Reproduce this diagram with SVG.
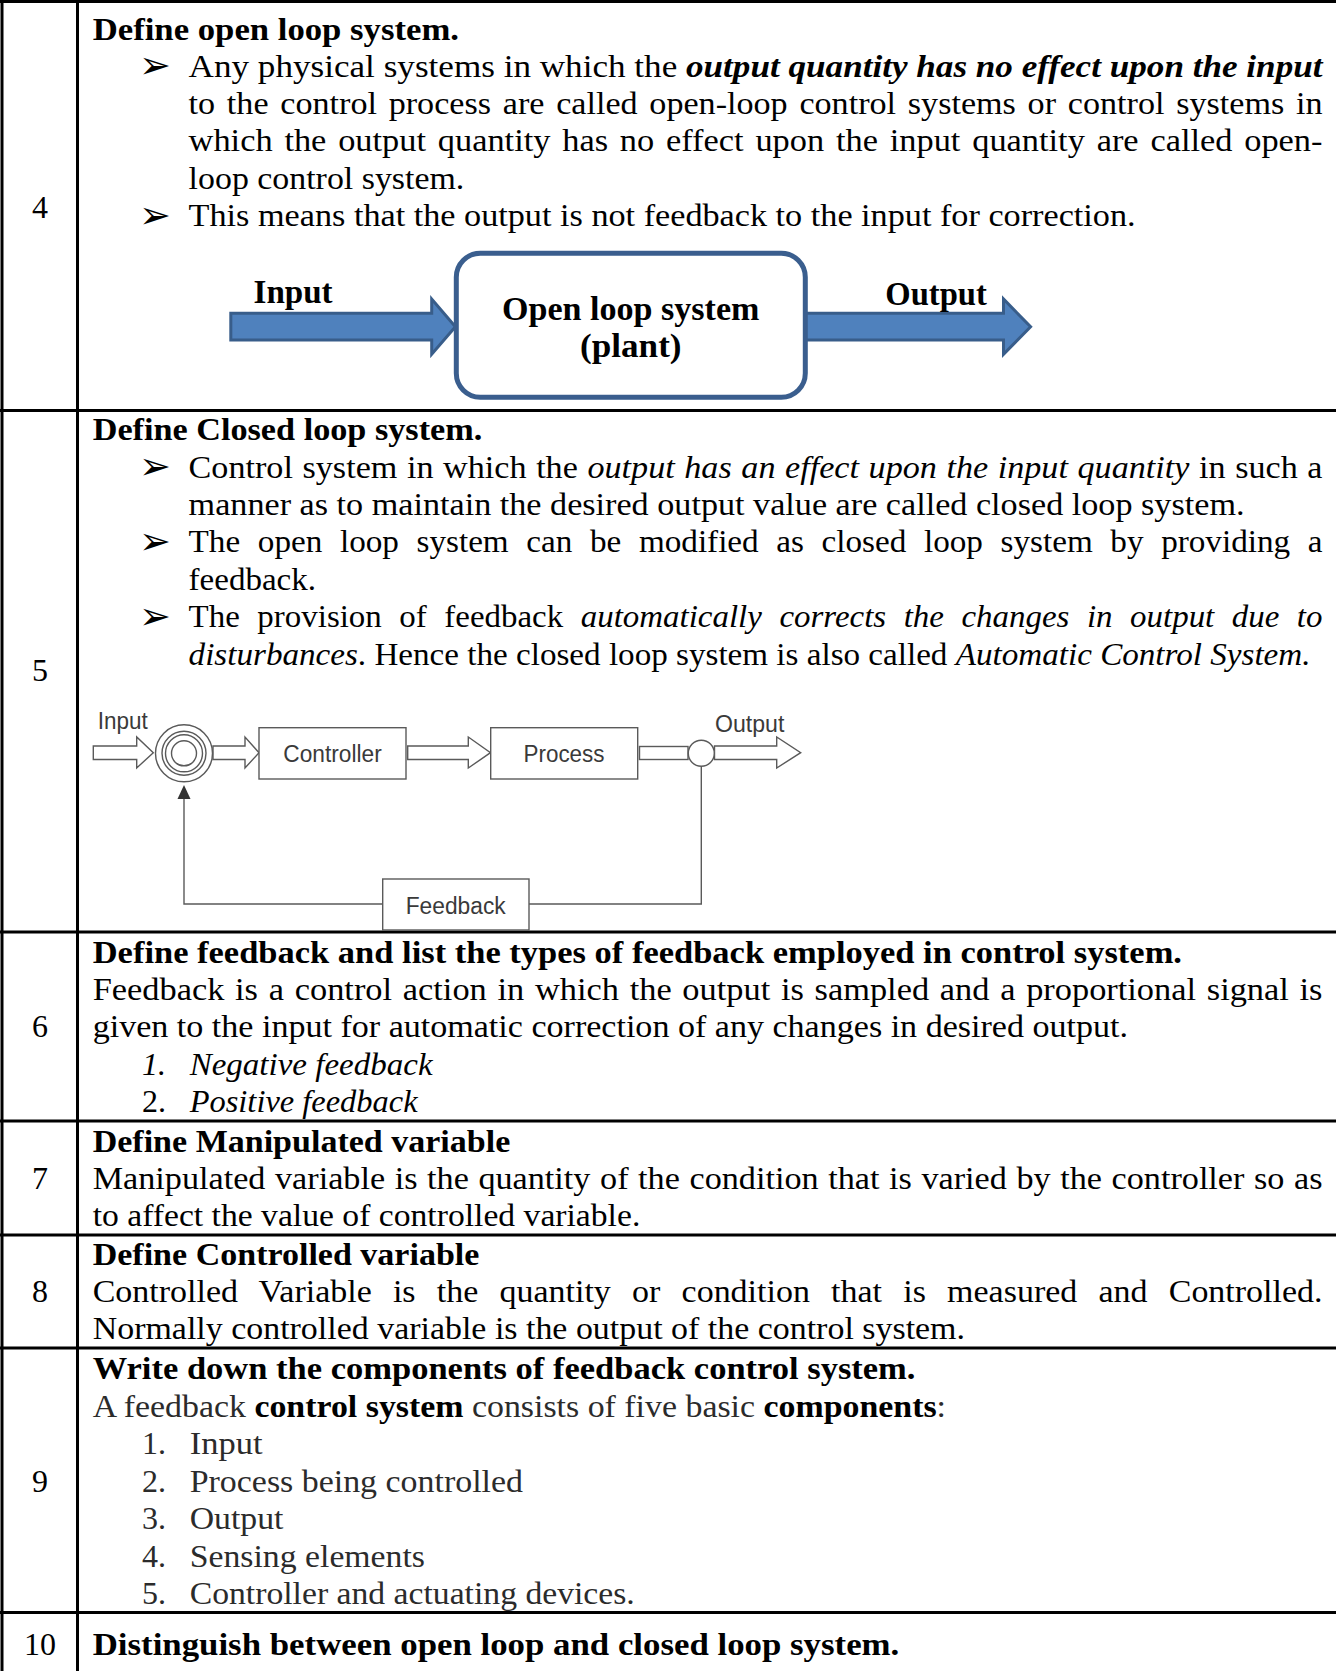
<svg xmlns="http://www.w3.org/2000/svg" width="1336" height="1671" viewBox="0 0 1336 1671">
<defs>
<style>
.t{font-family:"Liberation Serif","Times New Roman",serif;font-size:32px;fill:#000}
.b{font-weight:bold}
.i{font-style:italic}
.num{text-anchor:middle}
.bul{font-family:"DejaVu Sans",sans-serif;font-size:38px;fill:#000}
.sans{font-family:"Liberation Sans",Arial,sans-serif;font-size:23.5px;fill:#3a3a3a}
.grid{stroke:#000;stroke-width:3;fill:none}
.cl{stroke:#5a5a5a;stroke-width:1.4;fill:#fff}
.ln{stroke:#5a5a5a;stroke-width:1.4;fill:none}
.blue{fill:#4F81BD;stroke:#385D8A;stroke-width:3}
.g9{fill:#2b2b2b}
</style>
</defs>
<rect width="1336" height="1671" fill="#fff"/>

<g id="table-grid" class="grid">
<line x1="0" y1="1.5" x2="1336" y2="1.5"/>
<line x1="2" y1="0" x2="2" y2="1671"/>
<line x1="77.5" y1="0" x2="77.5" y2="1671"/>
<line x1="0" y1="410.5" x2="1336" y2="410.5"/>
<line x1="0" y1="932" x2="1336" y2="932"/>
<line x1="0" y1="1121" x2="1336" y2="1121"/>
<line x1="0" y1="1235" x2="1336" y2="1235"/>
<line x1="0" y1="1348" x2="1336" y2="1348"/>
<line x1="0" y1="1612.5" x2="1336" y2="1612.5"/>
</g>

<g id="row4">
<text class="t num" x="40" y="218">4</text>
<text class="t b" x="92.7" y="39.5" textLength="366.3" lengthAdjust="spacingAndGlyphs">Define open loop system.</text>
<text class="bul" x="139" y="78">➢</text>
<text class="t" x="188.6" y="76.5" textLength="1133.9" lengthAdjust="spacingAndGlyphs">Any physical systems in which the <tspan class="b i">output quantity has no effect upon the input</tspan></text>
<text class="t" x="188.6" y="114" textLength="1133.9" lengthAdjust="spacingAndGlyphs" word-spacing="3">to the control process are called open-loop control systems or control systems in</text>
<text class="t" x="188.6" y="151" textLength="1133.9" lengthAdjust="spacingAndGlyphs" word-spacing="3">which the output quantity has no effect upon the input quantity are called open-</text>
<text class="t" x="188.6" y="188.5" textLength="275.7" lengthAdjust="spacingAndGlyphs">loop control system.</text>
<text class="bul" x="139" y="227.5">➢</text>
<text class="t" x="188.6" y="226" textLength="947" lengthAdjust="spacingAndGlyphs">This means that the output is not feedback to the input for correction.</text>
</g>

<g id="open-loop-connectors">
<polygon id="ol-input-arrow" class="blue" points="230.8,313.3 431.7,313.3 431.7,299 455.4,326.7 431.7,354.3 431.7,340 230.8,340"/>
<polygon id="ol-output-arrow" class="blue" points="805,313.3 1003.5,313.3 1003.5,299 1030.6,326.7 1003.5,354.3 1003.5,340 805,340"/>
</g>
<g id="ol-plant">
<rect x="456.3" y="253.3" width="349" height="144" rx="24" fill="#fff" stroke="#3A5E8E" stroke-width="5"/>
<text class="t b" x="630.7" y="320" text-anchor="middle" textLength="257.4" lengthAdjust="spacingAndGlyphs" style="font-size:34px">Open loop system</text>
<text class="t b" x="630.8" y="356.7" text-anchor="middle" textLength="101.5" lengthAdjust="spacingAndGlyphs" style="font-size:34px">(plant)</text>
</g>
<g id="ol-labels">
<text class="t b" x="253.6" y="303.3" textLength="79" lengthAdjust="spacingAndGlyphs" style="font-size:33px">Input</text>
<text class="t b" x="885.3" y="305" textLength="101.5" lengthAdjust="spacingAndGlyphs" style="font-size:33px">Output</text>
</g>

<g id="row5">
<text class="t num" x="40" y="681">5</text>
<text class="t b" x="92.7" y="440" textLength="389.6" lengthAdjust="spacingAndGlyphs">Define Closed loop system.</text>
<text class="bul" x="139" y="479">➢</text>
<text class="t" x="188.6" y="477.5" textLength="1133.9" lengthAdjust="spacingAndGlyphs" word-spacing="1">Control system in which the <tspan class="i">output has an effect upon the input quantity</tspan> in such a</text>
<text class="t" x="188.6" y="515" textLength="1055.9" lengthAdjust="spacingAndGlyphs">manner as to maintain the desired output value are called closed loop system.</text>
<text class="bul" x="139" y="553.5">➢</text>
<text class="t" x="188.6" y="552" textLength="1133.9" lengthAdjust="spacingAndGlyphs" word-spacing="9">The open loop system can be modified as closed loop system by providing a</text>
<text class="t" x="188.6" y="589.5" textLength="127.4" lengthAdjust="spacingAndGlyphs">feedback.</text>
<text class="bul" x="139" y="628.5">➢</text>
<text class="t" x="188.6" y="627" textLength="1133.9" lengthAdjust="spacingAndGlyphs" word-spacing="9">The provision of feedback <tspan class="i">automatically corrects the changes in output due to</tspan></text>
<text class="t" x="188.6" y="664.5" textLength="1121.9" lengthAdjust="spacingAndGlyphs"><tspan class="i">disturbances</tspan>. Hence the closed loop system is also called <tspan class="i">Automatic Control System.</tspan></text>
</g>

<g id="cl-connectors">
<polygon id="cl-input-arrow" class="cl" points="93.3,746 136.7,746 136.7,737 153.3,752.7 136.7,768 136.7,759.5 93.3,759.5"/>
<polygon id="cl-sum-to-controller" class="cl" points="213,746 245,746 245,737 259,752.7 245,768 245,759.5 213,759.5"/>
<polygon id="cl-controller-to-process" class="cl" points="407.7,746 468.3,746 468.3,737 490.5,752.7 468.3,768 468.3,759.5 407.7,759.5"/>
<rect id="cl-process-bar" class="cl" x="639.5" y="746.5" width="48.5" height="13"/>
<polygon id="cl-output-arrow" class="cl" points="714.5,746 776.7,746 776.7,737 800.7,752.7 776.7,768 776.7,759.5 714.5,759.5"/>
<polyline class="ln" points="701.3,766.3 701.3,904 529,904"/>
<polyline class="ln" points="382.7,904 184,904 184,797"/>
<polygon points="184,785 177.5,799 190.5,799" fill="#333"/>
</g>
<g id="cl-sum">
<circle class="cl" cx="184" cy="753.3" r="28.5"/>
<circle class="ln" cx="184" cy="753.3" r="22"/>
<circle class="ln" cx="184" cy="753.3" r="18.5"/>
<circle class="ln" cx="184" cy="753.3" r="12.5"/>
</g>
<g id="cl-controller">
<rect class="cl" x="259" y="727.7" width="147" height="51.3"/>
<text class="sans" x="332.5" y="762" text-anchor="middle" textLength="98.4" lengthAdjust="spacingAndGlyphs">Controller</text>
</g>
<g id="cl-process">
<rect class="cl" x="490.7" y="727.7" width="147" height="51.3"/>
<text class="sans" x="564" y="762" text-anchor="middle" textLength="81" lengthAdjust="spacingAndGlyphs">Process</text>
</g>
<g id="cl-takeoff">
<circle class="cl" cx="701.3" cy="753.3" r="13"/>
</g>
<g id="cl-feedback">
<rect class="cl" x="382.7" y="879" width="146.3" height="51"/>
<text class="sans" x="455.7" y="913.5" text-anchor="middle" textLength="100" lengthAdjust="spacingAndGlyphs">Feedback</text>
</g>
<g id="cl-labels">
<text class="sans" x="97.7" y="729" textLength="50" lengthAdjust="spacingAndGlyphs">Input</text>
<text class="sans" x="715" y="731.7" textLength="69.3" lengthAdjust="spacingAndGlyphs">Output</text>
</g>

<g id="row6">
<text class="t num" x="40" y="1037">6</text>
<text class="t b" x="92.7" y="963" textLength="1089.3" lengthAdjust="spacingAndGlyphs">Define feedback and list the types of feedback employed in control system.</text>
<text class="t" x="92.7" y="1000" textLength="1229.8" lengthAdjust="spacingAndGlyphs" word-spacing="2">Feedback is a control action in which the output is sampled and a proportional signal is</text>
<text class="t" x="92.7" y="1037" textLength="1035.3" lengthAdjust="spacingAndGlyphs">given to the input for automatic correction of any changes in desired output.</text>
<text class="t i" x="142" y="1074.5">1.</text>
<text class="t i" x="189.7" y="1074.5" textLength="242.9" lengthAdjust="spacingAndGlyphs">Negative feedback</text>
<text class="t" x="142" y="1111.5">2.</text>
<text class="t i" x="189.7" y="1111.5" textLength="227.9" lengthAdjust="spacingAndGlyphs">Positive feedback</text>
</g>

<g id="row7">
<text class="t num" x="40" y="1188.5">7</text>
<text class="t b" x="92.7" y="1151.5" textLength="417.6" lengthAdjust="spacingAndGlyphs">Define Manipulated variable</text>
<text class="t" x="92.7" y="1188.5" textLength="1229.8" lengthAdjust="spacingAndGlyphs" word-spacing="1">Manipulated variable is the quantity of the condition that is varied by the controller so as</text>
<text class="t" x="92.7" y="1225.5" textLength="547.6" lengthAdjust="spacingAndGlyphs">to affect the value of controlled variable.</text>
</g>

<g id="row8">
<text class="t num" x="40" y="1302">8</text>
<text class="t b" x="92.7" y="1265" textLength="386.7" lengthAdjust="spacingAndGlyphs">Define Controlled variable</text>
<text class="t" x="92.7" y="1302" textLength="1229.8" lengthAdjust="spacingAndGlyphs" word-spacing="12">Controlled Variable is the quantity or condition that is measured and Controlled.</text>
<text class="t" x="92.7" y="1339" textLength="872.3" lengthAdjust="spacingAndGlyphs">Normally controlled variable is the output of the control system.</text>
</g>

<g id="row9">
<text class="t num" x="40" y="1491.5">9</text>
<text class="t b" x="92.7" y="1379" textLength="822.8" lengthAdjust="spacingAndGlyphs">Write down the components of feedback control system.</text>
<text class="t g9" x="92.7" y="1416.5" textLength="853.3" lengthAdjust="spacingAndGlyphs">A feedback <tspan class="b" fill="#000">control system</tspan> consists of five basic <tspan class="b" fill="#000">components</tspan>:</text>
<text class="t g9" x="142" y="1454">1.</text>
<text class="t g9" x="189.7" y="1454" textLength="72.8" lengthAdjust="spacingAndGlyphs">Input</text>
<text class="t g9" x="142" y="1491.5">2.</text>
<text class="t g9" x="189.7" y="1491.5" textLength="333.3" lengthAdjust="spacingAndGlyphs">Process being controlled</text>
<text class="t g9" x="142" y="1529">3.</text>
<text class="t g9" x="189.7" y="1529" textLength="93.8" lengthAdjust="spacingAndGlyphs">Output</text>
<text class="t g9" x="142" y="1566.5">4.</text>
<text class="t g9" x="189.7" y="1566.5" textLength="235.3" lengthAdjust="spacingAndGlyphs">Sensing elements</text>
<text class="t g9" x="142" y="1604">5.</text>
<text class="t g9" x="189.7" y="1604" textLength="445.1" lengthAdjust="spacingAndGlyphs">Controller and actuating devices.</text>
</g>

<g id="row10">
<text class="t num" x="40" y="1655">10</text>
<text class="t b" x="92.7" y="1655" textLength="806.6" lengthAdjust="spacingAndGlyphs">Distinguish between open loop and closed loop system.</text>
</g>
</svg>
